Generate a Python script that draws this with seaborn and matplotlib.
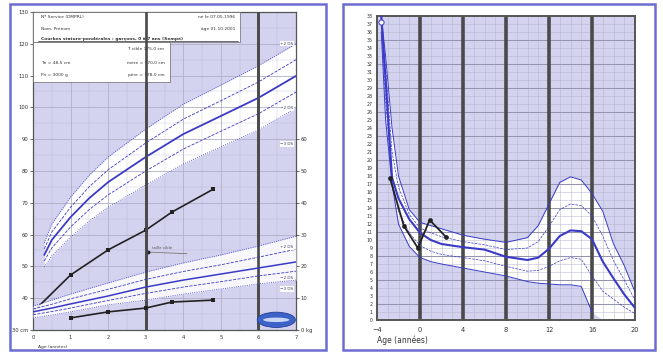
import numpy as np
import matplotlib
matplotlib.use("Agg")
import matplotlib.pyplot as plt
import seaborn as sns
from matplotlib.patches import Rectangle, Ellipse

sns.set_theme(style="white")
plt.rcParams['font.family'] = ['DejaVu Sans']

# ---------------- stature / weight chart (0-7 years) ----------------
h_ages = [0.3, 0.5, 1, 1.5, 2, 3, 4, 5, 6, 7]
h_p2 = [57.4, 63.3, 71.8, 78.7, 84.4, 93.2, 101.0, 107.0, 113.1, 120.0]
h_p1 = [55.5, 60.8, 68.6, 75.1, 80.4, 88.8, 96.3, 102.1, 108.0, 115.0]
h_med = [53.6, 58.3, 65.5, 71.5, 76.5, 84.4, 91.6, 97.3, 103.0, 109.9]
h_m1 = [51.7, 55.8, 62.4, 67.9, 72.5, 80.0, 86.9, 92.5, 98.0, 104.8]
h_m2 = [49.8, 53.3, 59.2, 64.3, 68.6, 75.6, 82.2, 87.6, 92.9, 99.8]

w_ages = [0, 0.5, 1, 2, 3, 4, 5, 6, 7]
w_p2 = [7.5, 9.4, 11.3, 14.8, 18.2, 21.1, 23.6, 26.4, 29.5]
w_p1 = [6.6, 8.1, 9.8, 12.8, 15.9, 18.4, 20.5, 22.9, 25.4]
w_med = [5.7, 6.9, 8.2, 10.7, 13.5, 15.7, 17.6, 19.5, 21.4]
w_m1 = [4.8, 5.8, 6.9, 9.3, 11.5, 13.5, 15.2, 17.0, 18.5]
w_m2 = [3.8, 4.7, 5.7, 7.9, 9.4, 11.3, 12.9, 14.5, 15.7]

child_h_age = [0, 1, 2, 3, 3.7, 4.8]
child_height = [35.7, 47.3, 55.2, 61.4, 67.1, 74.3]
child_w_age = [1, 2, 3, 3.7, 4.8]
child_weight = [3.8, 5.7, 6.9, 8.8, 9.4]

target_age = 3.05
target_height = 54.5

age_ticks = [0, 1, 2, 3, 4, 5, 6, 7]
cm_ticks = [30, 40, 50, 60, 70, 80, 90, 100, 110, 120, 130]
cm_labels = ["30 cm", "40", "50", "60", "70", "80", "90", "100", "110", "120", "130"]
kg_ticks = [0, 10, 20, 30, 40, 50, 60]
kg_labels = ["0 kg", "10", "20", "30", "40", "50", "60"]

# ---------------- growth velocity chart ----------------
v_ages = [-3.6, -3.2, -2.6, -2, -1, 0, 1, 2, 4, 6, 8, 10, 11, 12, 13, 14, 15, 16, 17, 18, 19, 20]
v_hi = [38, 33, 24, 18, 13.8, 12.2, 11.8, 11.4, 10.6, 10.1, 9.7, 10.3, 11.8, 14.5, 17.2, 17.9, 17.5, 15.8, 13.6, 9.5, 6.8, 3.5]
v_hi_mid = [38, 31.5, 21, 16.6, 13.2, 11.5, 10.9, 10.4, 9.8, 9.4, 8.8, 9.0, 9.8, 11.7, 13.8, 14.5, 14.3, 13.0, 10.5, 7.4, 5.0, 2.5]
v_med = [38, 30, 17.8, 15.2, 12.6, 10.9, 10.0, 9.5, 9.1, 8.8, 7.9, 7.5, 7.8, 8.9, 10.5, 11.2, 11.1, 10.1, 7.3, 5.2, 3.2, 1.5]
v_lo_mid = [37, 27.5, 17.4, 13.6, 10.9, 9.3, 8.6, 8.2, 7.8, 7.4, 6.7, 6.1, 6.2, 6.7, 7.4, 7.8, 7.6, 5.5, 3.6, 2.6, 1.6, 0.8]
v_lo = [36, 25, 17, 12, 9.2, 7.8, 7.3, 7.0, 6.5, 6.0, 5.5, 4.8, 4.6, 4.5, 4.4, 4.4, 4.2, 1.0, 0, 0, 0, 0]

child_v_age = [-2.8, -1.5, -0.2, 0.9, 2.4]
child_velocity = [17.75, 11.75, 9.0, 12.5, 10.4]

v_xticks = [-4, 0, 4, 8, 12, 16, 20]
v_yticks = list(range(0, 39))

BG = "#d3d3ef"
GRID = "#b0b0c8"
HEAVY = "#4a4a4a"
BLUE = "#3a3ac6"
FRAME = "#6c6cd2"
INK = "#222222"

W, H = 663, 355
fig = plt.figure(figsize=(W / 100, H / 100), dpi=100)
fig.patch.set_facecolor("white")

# panel frames
for x0, x1 in [(10, 326), (343, 655)]:
    fig.add_artist(Rectangle((x0 / W, 1 - 350 / H), (x1 - x0) / W, 346 / H,
                             transform=fig.transFigure, fill=False,
                             ec=FRAME, lw=1.8))

# ================= left panel =================
ax = fig.add_axes([33 / W, 1 - 330 / H, 263 / W, 318 / H])
ax.set_facecolor(BG)
ax.set_xlim(0, 7)
ax.set_ylim(30, 130)
ax.set_xticks(age_ticks)
ax.set_xticks(np.arange(0, 7.01, 0.5), minor=True)
ax.set_yticks(cm_ticks)
ax.set_yticklabels(cm_labels)
ax.set_yticks(np.arange(30, 131, 5), minor=True)
ax.set_axisbelow('line')
ax.grid(which='major', color=GRID, lw=0.6)
ax.grid(which='minor', color=GRID, lw=0.35, alpha=0.6)
ax.tick_params(which='both', labelsize=3.8, length=2, width=0.5, pad=1.5,
               colors='#333333')
ax.tick_params(which='minor', length=0)
for s in ax.spines.values():
    s.set_color('#555555')
    s.set_linewidth(0.9)

ax.fill_between(h_ages, h_m2, h_p2, color='white', lw=0, zorder=1)
for a in (3, 6):
    ax.axvline(a, color=HEAVY, lw=1.9, zorder=2.5)

sns.lineplot(x=h_ages, y=h_p2, ax=ax, color=BLUE, lw=0.6, ls=':', zorder=3)
sns.lineplot(x=h_ages, y=h_p1, ax=ax, color=BLUE, lw=0.6, ls='--', zorder=3)
sns.lineplot(x=h_ages, y=h_med, ax=ax, color=BLUE, lw=1.3, zorder=3)
sns.lineplot(x=h_ages, y=h_m1, ax=ax, color=BLUE, lw=0.6, ls='--', zorder=3)
sns.lineplot(x=h_ages, y=h_m2, ax=ax, color=BLUE, lw=0.6, ls=':', zorder=3)

sns.lineplot(x=child_h_age, y=child_height, ax=ax, color=INK, lw=1.2,
             marker='s', markersize=3.2, markeredgewidth=0, zorder=6)

# target height marker
ax.plot([target_age, target_age + 1.05], [target_height, target_height - 0.5],
        color='#777777', lw=0.6, zorder=5)
sns.scatterplot(x=[target_age], y=[target_height], ax=ax, color=INK, s=8,
                linewidth=0, zorder=6)
ax.text(target_age + 0.12, target_height + 0.9, "taille cible", fontsize=2.8,
        color='#555555', zorder=6)

# percentile tags at the right edge
for yv, txt in [(h_p2[-1], "+2 DS"), (h_m2[-1], "−2 DS"), (88.5, "−3 DS")]:
    ax.text(6.93, yv, txt, fontsize=3, ha='right', va='center', color='#333366',
            zorder=7, bbox=dict(boxstyle='square,pad=0.15', fc='white', ec='none'))

# identification boxes
ax.add_patch(Rectangle((0, 0.906), 0.787, 0.094, transform=ax.transAxes,
                       fc='white', ec='#666666', lw=0.5, zorder=8))
ax.add_patch(Rectangle((0, 0.780), 0.521, 0.126, transform=ax.transAxes,
                       fc='white', ec='#666666', lw=0.5, zorder=8))
tkw = dict(transform=ax.transAxes, fontsize=3.2, color='#333333', zorder=9,
           va='center')
ax.text(0.03, 0.983, "Nº Service (DMPRL)", **tkw)
ax.text(0.77, 0.983, "né le 07.05.1996", ha='right', **tkw)
ax.text(0.03, 0.948, "Nom, Prénom", **tkw)
ax.text(0.77, 0.948, "âge 01.10.2001", ha='right', **tkw)
ax.text(0.03, 0.915, "Courbes staturo-pondérales : garçons, 0 à 7 ans (Sempé)",
        fontweight='bold', **tkw)
ax.plot([0.02, 0.78], [0.909, 0.909], transform=ax.transAxes, color='#333333',
        lw=0.5, zorder=9)
ax.text(0.50, 0.883, "T. cible 175,0 cm", ha='right', **tkw)
ax.text(0.03, 0.840, "Tn = 48,5 cm", **tkw)
ax.text(0.50, 0.840, "mère = 170,0 cm", ha='right', **tkw)
ax.text(0.03, 0.803, "Pn = 3000 g", **tkw)
ax.text(0.50, 0.803, "père = 178,0 cm", ha='right', **tkw)

ax.text(0.02, -0.052, "Age (années)", transform=ax.transAxes, fontsize=3.2,
        color='#333333', va='center')

# weight on its own scale
axw = ax.twinx()
axw.set_ylim(0, 100)
axw.set_yticks(kg_ticks)
axw.set_yticklabels(kg_labels)
axw.tick_params(labelsize=3.8, length=2, width=0.5, pad=1.5, colors='#333333')
for s in axw.spines.values():
    s.set_visible(False)
axw.fill_between(w_ages, w_m2, w_p2, color='white', alpha=0.85, lw=0, zorder=1)
for a in (3, 6):
    axw.axvline(a, color=HEAVY, lw=1.9, zorder=2.5)
sns.lineplot(x=w_ages, y=w_p2, ax=axw, color=BLUE, lw=0.6, ls=':', zorder=3)
sns.lineplot(x=w_ages, y=w_p1, ax=axw, color=BLUE, lw=0.6, ls='--', zorder=3)
sns.lineplot(x=w_ages, y=w_med, ax=axw, color=BLUE, lw=1.1, zorder=3)
sns.lineplot(x=w_ages, y=w_m1, ax=axw, color=BLUE, lw=0.6, ls='--', zorder=3)
sns.lineplot(x=w_ages, y=w_m2, ax=axw, color=BLUE, lw=0.6, ls=':', zorder=3)
sns.lineplot(x=child_w_age, y=child_weight, ax=axw, color=INK, lw=1.2,
             marker='s', markersize=3.2, markeredgewidth=0, zorder=6)
for yv, txt in [(26.0, "+2 DS"), (16.4, "−2 DS"), (12.9, "−3 DS")]:
    axw.text(6.93, yv, txt, fontsize=3, ha='right', va='center', color='#333366',
             zorder=7, bbox=dict(boxstyle='square,pad=0.15', fc='white', ec='none'))
axw.add_patch(Ellipse((0.925, 0.032), 0.145, 0.048, transform=axw.transAxes,
                      fc='#3d62c8', ec='#27409a', lw=0.6, zorder=8))
axw.add_patch(Ellipse((0.925, 0.032), 0.10, 0.014, transform=axw.transAxes,
                      fc='#c9d6f5', ec='none', zorder=9))

# ================= right panel =================
axr = fig.add_axes([377 / W, 1 - 320 / H, 258 / W, 304 / H])
axr.set_facecolor(BG)
axr.set_xlim(-4, 20)
axr.set_ylim(0, 38)
axr.set_xticks(v_xticks)
axr.set_xticks(range(-4, 21), minor=True)
axr.set_yticks(v_yticks)
axr.set_axisbelow('line')
axr.grid(which='both', color=GRID, lw=0.4, alpha=0.8)
axr.tick_params(axis='x', labelsize=4.8, length=2, width=0.5, pad=3,
                colors='#333333')
axr.tick_params(axis='y', labelsize=3.4, length=1.5, width=0.4, pad=1.5,
                colors='#333333')
axr.tick_params(which='minor', length=0)
for s in axr.spines.values():
    s.set_color('#555555')
    s.set_linewidth(1.4)

axr.fill_between(v_ages, v_lo, v_hi, color='white', lw=0, zorder=1)
for yv in range(2, 38, 3):
    axr.axhline(yv, color='#9494ac', lw=0.75, zorder=1.6)
for a in (0, 4, 8, 12, 16):
    axr.axvline(a, color=HEAVY, lw=2.6, zorder=2.5)

sns.lineplot(x=v_ages, y=v_hi, ax=axr, color=BLUE, lw=0.7, zorder=3)
sns.lineplot(x=v_ages, y=v_hi_mid, ax=axr, color=BLUE, lw=0.5, ls='--', zorder=3)
sns.lineplot(x=v_ages, y=v_med, ax=axr, color=BLUE, lw=1.5, zorder=3)
sns.lineplot(x=v_ages, y=v_lo_mid, ax=axr, color=BLUE, lw=0.5, ls='--', zorder=3)
sns.lineplot(x=v_ages[:18], y=v_lo[:18], ax=axr, color=BLUE, lw=0.7, zorder=3)
sns.scatterplot(x=[v_ages[0]], y=[37.3], ax=axr, s=14, facecolor='white',
                edgecolor=BLUE, linewidth=0.7, zorder=4)

sns.lineplot(x=child_v_age, y=child_velocity, ax=axr, color=INK, lw=1.3,
             marker='o', markersize=3.4, markeredgewidth=0, sort=False,
             zorder=6)

axr.set_xlabel("Age (années)", fontsize=5.5, loc='left', labelpad=2,
               color='#333333')
axr.set_ylabel("")

fig.savefig("out.png", dpi=100)
